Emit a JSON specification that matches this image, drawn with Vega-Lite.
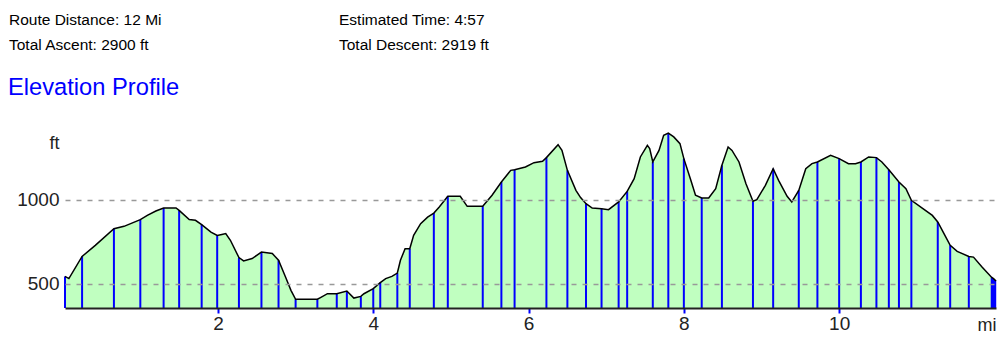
{
  "$schema": "https://vega.github.io/schema/vega-lite/v6.json",
  "padding": {"left": 8, "top": 13, "right": 0, "bottom": 0},
  "background": "white",
  "config": {"view": {"stroke": null}, "font": "Liberation Sans"},
  "spacing": 22,
  "datasets": {
    "header": [
      {"col": 0, "line": 0, "label": "Route Distance: 12 Mi"},
      {"col": 0, "line": 1, "label": "Total Ascent: 2900 ft"},
      {"col": 1, "line": 0, "label": "Estimated Time: 4:57"},
      {"col": 1, "line": 1, "label": "Total Descent: 2919 ft"}
    ],
    "profile": [
      {"mi": 0.03, "ft": 543}, {"mi": 0.08, "ft": 530}, {"mi": 0.25, "ft": 662}, {"mi": 0.42, "ft": 728},
      {"mi": 0.66, "ft": 827}, {"mi": 0.79, "ft": 841}, {"mi": 1.0, "ft": 881}, {"mi": 1.09, "ft": 906},
      {"mi": 1.2, "ft": 932}, {"mi": 1.3, "ft": 950}, {"mi": 1.46, "ft": 950}, {"mi": 1.5, "ft": 936},
      {"mi": 1.63, "ft": 881}, {"mi": 1.71, "ft": 877}, {"mi": 1.79, "ft": 851}, {"mi": 1.91, "ft": 807},
      {"mi": 1.99, "ft": 787}, {"mi": 2.05, "ft": 793}, {"mi": 2.1, "ft": 798}, {"mi": 2.16, "ft": 758},
      {"mi": 2.27, "ft": 655}, {"mi": 2.33, "ft": 635}, {"mi": 2.44, "ft": 649}, {"mi": 2.56, "ft": 688},
      {"mi": 2.7, "ft": 679}, {"mi": 2.78, "ft": 639}, {"mi": 2.87, "ft": 539}, {"mi": 2.94, "ft": 460},
      {"mi": 3.0, "ft": 407}, {"mi": 3.28, "ft": 407}, {"mi": 3.32, "ft": 417}, {"mi": 3.41, "ft": 440},
      {"mi": 3.53, "ft": 440}, {"mi": 3.66, "ft": 456}, {"mi": 3.75, "ft": 414}, {"mi": 3.84, "ft": 424},
      {"mi": 3.88, "ft": 440}, {"mi": 4.0, "ft": 470}, {"mi": 4.09, "ft": 506}, {"mi": 4.16, "ft": 530},
      {"mi": 4.24, "ft": 543}, {"mi": 4.31, "ft": 563}, {"mi": 4.35, "ft": 639}, {"mi": 4.41, "ft": 708},
      {"mi": 4.47, "ft": 708}, {"mi": 4.52, "ft": 787}, {"mi": 4.61, "ft": 857}, {"mi": 4.7, "ft": 896},
      {"mi": 4.78, "ft": 920}, {"mi": 4.85, "ft": 956}, {"mi": 4.96, "ft": 1020}, {"mi": 5.12, "ft": 1020},
      {"mi": 5.21, "ft": 960}, {"mi": 5.41, "ft": 960}, {"mi": 5.53, "ft": 1026}, {"mi": 5.65, "ft": 1105},
      {"mi": 5.77, "ft": 1174}, {"mi": 5.82, "ft": 1178}, {"mi": 5.96, "ft": 1194}, {"mi": 6.07, "ft": 1220},
      {"mi": 6.18, "ft": 1228}, {"mi": 6.23, "ft": 1250}, {"mi": 6.38, "ft": 1327}, {"mi": 6.43, "ft": 1293},
      {"mi": 6.5, "ft": 1174}, {"mi": 6.61, "ft": 1055}, {"mi": 6.67, "ft": 1012}, {"mi": 6.74, "ft": 976},
      {"mi": 6.82, "ft": 950}, {"mi": 6.94, "ft": 946}, {"mi": 7.03, "ft": 940}, {"mi": 7.16, "ft": 986},
      {"mi": 7.27, "ft": 1049}, {"mi": 7.36, "ft": 1125}, {"mi": 7.44, "ft": 1254}, {"mi": 7.53, "ft": 1323},
      {"mi": 7.56, "ft": 1304}, {"mi": 7.6, "ft": 1224}, {"mi": 7.68, "ft": 1293}, {"mi": 7.74, "ft": 1383},
      {"mi": 7.8, "ft": 1396}, {"mi": 7.87, "ft": 1373}, {"mi": 7.95, "ft": 1333}, {"mi": 8.0, "ft": 1244},
      {"mi": 8.09, "ft": 1115}, {"mi": 8.15, "ft": 1026}, {"mi": 8.23, "ft": 1010}, {"mi": 8.32, "ft": 1010},
      {"mi": 8.41, "ft": 1065}, {"mi": 8.49, "ft": 1204}, {"mi": 8.57, "ft": 1313}, {"mi": 8.62, "ft": 1293},
      {"mi": 8.71, "ft": 1224}, {"mi": 8.8, "ft": 1095}, {"mi": 8.89, "ft": 990}, {"mi": 8.94, "ft": 1000},
      {"mi": 9.05, "ft": 1085}, {"mi": 9.15, "ft": 1184}, {"mi": 9.22, "ft": 1115}, {"mi": 9.33, "ft": 1020},
      {"mi": 9.39, "ft": 986}, {"mi": 9.48, "ft": 1055}, {"mi": 9.57, "ft": 1184}, {"mi": 9.65, "ft": 1214},
      {"mi": 9.72, "ft": 1224}, {"mi": 9.89, "ft": 1264}, {"mi": 10.0, "ft": 1244}, {"mi": 10.12, "ft": 1214},
      {"mi": 10.21, "ft": 1214}, {"mi": 10.28, "ft": 1224}, {"mi": 10.38, "ft": 1254}, {"mi": 10.48, "ft": 1250},
      {"mi": 10.55, "ft": 1224}, {"mi": 10.64, "ft": 1178}, {"mi": 10.77, "ft": 1105}, {"mi": 10.86, "ft": 1065},
      {"mi": 10.93, "ft": 996}, {"mi": 11.07, "ft": 950}, {"mi": 11.2, "ft": 906}, {"mi": 11.27, "ft": 867},
      {"mi": 11.35, "ft": 798}, {"mi": 11.43, "ft": 728}, {"mi": 11.52, "ft": 692}, {"mi": 11.67, "ft": 662},
      {"mi": 11.73, "ft": 658}, {"mi": 11.84, "ft": 599}, {"mi": 11.965, "ft": 537}, {"mi": 11.98, "ft": 533},
      {"mi": 11.995, "ft": 527}, {"mi": 12.01, "ft": 520}, {"mi": 12.02, "ft": 515}
    ],
    "markers": [
      {"mi": 0.03, "ft": 543}, {"mi": 0.25, "ft": 662}, {"mi": 0.66, "ft": 827}, {"mi": 1.0, "ft": 881},
      {"mi": 1.3, "ft": 950}, {"mi": 1.5, "ft": 936}, {"mi": 1.79, "ft": 851}, {"mi": 1.99, "ft": 787},
      {"mi": 2.27, "ft": 655}, {"mi": 2.56, "ft": 688}, {"mi": 2.78, "ft": 639}, {"mi": 3.0, "ft": 407},
      {"mi": 3.28, "ft": 407}, {"mi": 3.53, "ft": 440}, {"mi": 3.66, "ft": 456}, {"mi": 3.84, "ft": 424},
      {"mi": 4.0, "ft": 470}, {"mi": 4.09, "ft": 506}, {"mi": 4.31, "ft": 563}, {"mi": 4.47, "ft": 708},
      {"mi": 4.78, "ft": 920}, {"mi": 4.96, "ft": 1020}, {"mi": 5.41, "ft": 960}, {"mi": 5.65, "ft": 1105},
      {"mi": 5.82, "ft": 1178}, {"mi": 6.23, "ft": 1250}, {"mi": 6.5, "ft": 1174}, {"mi": 6.74, "ft": 976},
      {"mi": 6.94, "ft": 946}, {"mi": 7.16, "ft": 986}, {"mi": 7.27, "ft": 1049}, {"mi": 7.6, "ft": 1224},
      {"mi": 7.8, "ft": 1396}, {"mi": 8.0, "ft": 1244}, {"mi": 8.23, "ft": 1010}, {"mi": 8.49, "ft": 1204},
      {"mi": 8.89, "ft": 990}, {"mi": 9.15, "ft": 1184}, {"mi": 9.48, "ft": 1055}, {"mi": 9.72, "ft": 1224},
      {"mi": 10.0, "ft": 1244}, {"mi": 10.28, "ft": 1224}, {"mi": 10.48, "ft": 1250}, {"mi": 10.64, "ft": 1178},
      {"mi": 10.77, "ft": 1105}, {"mi": 10.93, "ft": 996}, {"mi": 11.27, "ft": 867}, {"mi": 11.43, "ft": 728},
      {"mi": 11.67, "ft": 662}, {"mi": 11.965, "ft": 537}, {"mi": 11.98, "ft": 533}, {"mi": 11.995, "ft": 527},
      {"mi": 12.01, "ft": 520}
    ]
  },
  "vconcat": [
    {
      "width": 931,
      "height": 25,
      "data": {"name": "header"},
      "mark": {"type": "text", "align": "left", "baseline": "alphabetic", "fontSize": 15.5, "color": "#000000", "font": "Liberation Sans"},
      "encoding": {
        "x": {"field": "col", "type": "quantitative", "scale": {"domain": [0, 1], "range": [-56, 274], "zero": false, "nice": false}, "axis": null},
        "y": {"field": "line", "type": "quantitative", "scale": {"domain": [0, 1], "range": [0, 25], "zero": false, "nice": false}, "axis": null},
        "text": {"field": "label"}
      }
    },
    {
      "width": 931,
      "height": 184,
      "title": {"text": "Elevation Profile", "anchor": "start", "frame": "group", "color": "#0000ff", "fontSize": 23.7, "fontWeight": "normal", "font": "Liberation Sans", "baseline": "alphabetic", "offset": 5, "dx": -57},
      "layer": [
        {
          "data": {"name": "profile"},
          "mark": {"type": "area", "color": "#c0ffc0", "opacity": 1},
          "encoding": {
            "x": {"field": "mi", "type": "quantitative", "scale": {"domain": [0.03, 12.02], "nice": false, "zero": false},
              "axis": {"values": [2, 4, 6, 8, 10], "format": "d", "title": "mi", "grid": false, "zindex": 1, "domainColor": "#222222", "domainWidth": 2,
                "tickColor": "#0000ff", "tickWidth": 2, "tickSize": 5, "labelFontSize": 19, "labelColor": "#222222", "labelPadding": 1, "labelFont": "Liberation Sans",
                "titleAnchor": "end", "titleAlign": "right", "titleX": 931, "titleY": 22, "titleBaseline": "alphabetic", "titleFontSize": 18, "titleFontWeight": "normal", "titleColor": "#222222", "titleFont": "Liberation Sans"}},
            "y": {"field": "ft", "type": "quantitative", "scale": {"domain": [355, 1450], "nice": false, "zero": false},
              "axis": {"values": [500, 1000], "format": "d", "title": "ft", "grid": true, "gridDash": [5, 6], "gridColor": "#999999", "gridWidth": 1.5, "zindex": 1,
                "domain": false, "ticks": false, "labelFontSize": 19, "labelPadding": 6, "labelColor": "#222222", "labelFont": "Liberation Sans",
                "titleAngle": 0, "titleAlign": "right", "titleBaseline": "middle", "titleX": -6, "titleY": 19, "titleFontSize": 18, "titleFontWeight": "normal", "titleColor": "#222222", "titleFont": "Liberation Sans"}},
            "y2": {"datum": 355}
          }
        },
        {
          "data": {"name": "markers"},
          "mark": {"type": "rule", "color": "#0000ff", "strokeWidth": 2},
          "encoding": {
            "x": {"field": "mi", "type": "quantitative"},
            "y": {"field": "ft", "type": "quantitative"},
            "y2": {"datum": 355}
          }
        },
        {
          "data": {"name": "profile"},
          "mark": {"type": "line", "color": "#000000", "strokeWidth": 1.5},
          "encoding": {
            "x": {"field": "mi", "type": "quantitative"},
            "y": {"field": "ft", "type": "quantitative"}
          }
        }
      ]
    }
  ]
}
